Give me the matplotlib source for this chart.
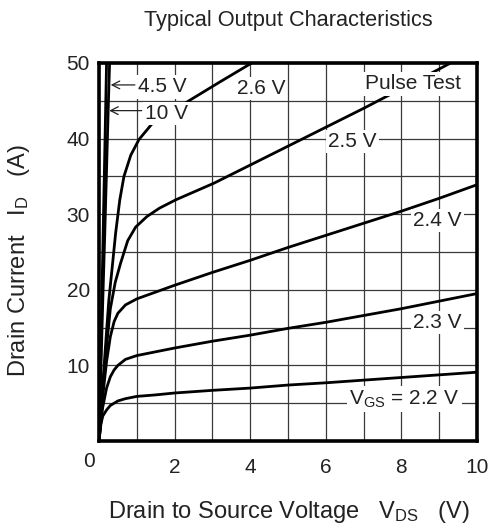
import numpy as np
import matplotlib
matplotlib.use('Agg')
import matplotlib.pyplot as plt
from matplotlib.transforms import ScaledTranslation

plt.rcParams['font.family'] = ['Liberation Sans', 'DejaVu Sans']
plt.rcParams['mathtext.fontset'] = 'custom'
plt.rcParams['mathtext.rm'] = 'Liberation Sans'
plt.rcParams['mathtext.it'] = 'Liberation Sans:italic'

# ---------------- data ----------------
vds_10 = [0, 0.1, 0.2]
id_10 = [0, 25, 50]

vds_45 = [0, 0.05, 0.1, 0.15, 0.2, 0.25, 0.28]
id_45 = [0, 9.5, 18.6, 27, 36, 45, 50]

vds_26 = [0, 0.1, 0.2, 0.26, 0.35, 0.44, 0.55, 0.66, 0.84, 1.06, 1.41, 2.0, 2.41, 3.2, 4.04]
id_26 = [0, 7.5, 14.5, 18.6, 23, 27.5, 31.9, 35, 37.8, 39.9, 42, 43.8, 45.1, 47.5, 50]

vds_25 = [0, 0.1, 0.2, 0.3, 0.43, 0.57, 0.76, 0.97, 1.27, 1.6, 2.03, 3.04, 4, 5, 6, 7, 8, 9, 9.3]
id_25 = [0, 6.5, 12.5, 17.5, 21, 23.5, 26.5, 28.3, 29.7, 30.8, 31.9, 34.1, 36.5, 39, 41.5, 44, 46.6, 49.2, 50]

vds_low = [0, 0.05, 0.1, 0.2, 0.3, 0.4, 0.5, 0.7, 1.0, 1.5, 2, 3, 4, 5, 6, 7, 8, 9, 10]
id_24 = [0, 3.0, 6.0, 10.5, 13.8, 15.8, 16.9, 18.0, 18.8, 19.7, 20.6, 22.3, 23.9, 25.6, 27.2, 28.8, 30.4, 32.1, 33.9]
id_23 = [0, 2.5, 4.5, 7.0, 8.5, 9.4, 10.0, 10.8, 11.3, 11.8, 12.3, 13.2, 14.0, 14.9, 15.7, 16.6, 17.5, 18.5, 19.5]
id_22 = [0, 2.2, 3.3, 4.1, 4.7, 5.0, 5.3, 5.6, 5.9, 6.1, 6.35, 6.7, 7.0, 7.4, 7.7, 8.05, 8.4, 8.75, 9.1]

x_ticks = [0, 2, 4, 6, 8, 10]
x_tick_labels = ['0', '2', '4', '6', '8', '10']
y_ticks = [10, 20, 30, 40, 50]
y_tick_labels = ['10', '20', '30', '40', '50']

curve_labels = ['4.5 V', '10 V', '2.6 V', 'Pulse Test', '2.5 V', '2.4 V', '2.3 V',
                r'V$_\mathregular{GS}$ = 2.2 V']

# ---------------- layout ----------------
label_pos = [(1.04, 46.1), (1.22, 42.6), (3.64, 45.9), (7.04, 46.5),
             (6.07, 38.9), (8.32, 28.4), (8.32, 15.0), (6.62, 4.86)]
arrows = [((0.95, 47.1), (0.31, 47.1)), ((1.13, 43.7), (0.27, 43.7))]

FS = 15
FS_AX = 17
fig = plt.figure(figsize=(4.95, 5.28), dpi=100)
ax = fig.add_axes([99 / 495, 1 - 441 / 528, 378 / 495, 378 / 528])

curves = [(vds_10, id_10), (vds_45, id_45), (vds_26, id_26), (vds_25, id_25),
          (vds_low, id_24), (vds_low, id_23), (vds_low, id_22)]
for xs, ys in curves:
    ax.plot(xs, ys, color='black', lw=2.0, solid_joinstyle='round',
            solid_capstyle='butt', zorder=3)

ax.set_xlim(0, 10)
ax.set_ylim(0, 50)
ax.set_xticks(x_ticks)
ax.set_xticklabels(x_tick_labels)
ax.set_yticks(y_ticks)
ax.set_yticklabels(y_tick_labels)
ax.set_xticks(np.arange(0, 10.01, 1), minor=True)
ax.set_yticks(np.arange(0, 50.01, 5), minor=True)
ax.grid(which='both', color='#3a3a3a', lw=0.9, zorder=1)
ax.set_axisbelow(True)
ax.tick_params(which='both', length=0, labelsize=FS, colors='#222222')
ax.tick_params(axis='x', pad=12.5)
ax.tick_params(axis='y', pad=6.5)
for s in ax.spines.values():
    s.set_linewidth(2.6)
    s.set_color('black')
    s.set_zorder(5)

# shift the "0" label to the corner
lab0 = ax.get_xticklabels()[0]
lab0.set_transform(lab0.get_transform() + ScaledTranslation(-9.5 / 100, 6 / 100, fig.dpi_scale_trans))

for txt, (x, y) in zip(curve_labels, label_pos):
    ax.text(x, y, txt, fontsize=FS, ha='left', va='baseline', color='#222222', zorder=4,
            bbox=dict(facecolor='white', edgecolor='none', pad=1.5))

for (x0, y0), (x1, y1) in arrows:
    ax.annotate('', xy=(x1, y1), xytext=(x0, y0), zorder=6,
                arrowprops=dict(arrowstyle='->,head_length=0.55,head_width=0.28',
                                lw=0.9, color='#222222', shrinkA=0, shrinkB=0))

fig.text(288 / 495, 1 - 26 / 528, 'Typical Output Characteristics', fontsize=15.7,
         ha='center', va='baseline', color='#222222')
fig.text(289 / 495, 1 - 518 / 528, r'Drain to Source Voltage   V$_\mathregular{DS}$   (V)',
         fontsize=FS_AX, ha='center', va='baseline', color='#222222')
fig.text(19 / 495, 1 - 261 / 528, r'Drain Current   I$_\mathregular{D}$   (A)',
         fontsize=FS_AX, ha='center', va='center', rotation=90, color='#222222')

fig.savefig('out.png', dpi=100)
